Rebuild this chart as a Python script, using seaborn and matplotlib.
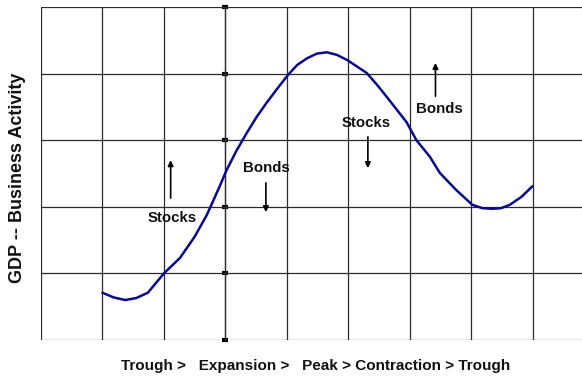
import matplotlib
matplotlib.use("Agg")
import matplotlib.pyplot as plt
import seaborn as sns
import pandas as pd

sns.set_theme(style="white")
plt.rcParams["font.family"] = ["Liberation Sans", "DejaVu Sans"]

# Business-cycle curve (phase position vs. activity level)
cycle_x = [1.00, 1.18, 1.37, 1.55, 1.74, 2.00, 2.26, 2.50, 2.70, 2.89, 3.02, 3.18, 3.35,
           3.51, 3.67, 3.85, 4.02, 4.17, 4.33, 4.49, 4.65, 4.82, 4.99, 5.30, 5.48, 5.67,
           5.95, 6.11, 6.33, 6.49, 6.76, 7.02, 7.18, 7.35, 7.49, 7.63, 7.82, 8.00]
cycle_y = [0.71, 0.64, 0.60, 0.63, 0.71, 1.00, 1.23, 1.55, 1.88, 2.27, 2.55, 2.84, 3.11,
           3.35, 3.56, 3.78, 3.98, 4.13, 4.23, 4.30, 4.32, 4.28, 4.20, 4.01, 3.82, 3.60,
           3.27, 3.00, 2.75, 2.51, 2.25, 2.03, 1.98, 1.97, 1.98, 2.03, 2.15, 2.31]

# Asset-class labels with the direction of their arrows
asset_labels = ["Stocks", "Bonds", "Stocks", "Bonds"]
label_x = [2.13, 3.66, 5.30, 6.49]
label_y = [1.83, 2.58, 3.26, 3.47]

x_title = "Trough >   Expansion >   Peak > Contraction > Trough"
y_title = "GDP -- Business Activity"

df = pd.DataFrame({"phase": cycle_x, "activity": cycle_y})

fig = plt.figure(figsize=(5.82, 3.79), dpi=100)
ax = fig.add_axes([41 / 582, 39 / 379, 553 / 582, 333 / 379])

ax.set_xlim(0, 9)
ax.set_ylim(0, 5)

# grid
for gx in range(0, 10):
    ax.axvline(gx, color="#2a2a2a", lw=0.9, zorder=1)
for gy in range(0, 6):
    ax.axhline(gy, color="#2a2a2a", lw=0.9, zorder=1)

sns.lineplot(data=df, x="phase", y="activity", sort=False, color="#0a0a8a",
             lw=1.8, ax=ax, zorder=3)

# central axis with square tick marks
ax.spines["left"].set_position(("data", 3))
for s in ["top", "right", "bottom"]:
    ax.spines[s].set_visible(False)
ax.spines["left"].set_color("#2a2a2a")
ax.spines["left"].set_linewidth(0.9)
ax.set_yticks(range(0, 6))
ax.set_yticklabels([])
ax.tick_params(axis="y", direction="inout", length=5, width=3, color="black", left=True)
ax.set_xticks([])
ax.set_xlabel("")
ax.set_ylabel("")

for lab, lx, ly in zip(asset_labels, label_x, label_y):
    ax.text(lx, ly, lab, ha="center", va="center", fontsize=10.8, fontweight="bold",
            color="#111111", zorder=4)

# arrows: (x, y_tail, y_head)
arrow_specs = [(2.11, 2.13, 2.70), (3.66, 2.36, 1.92), (5.32, 3.05, 2.58), (6.42, 3.66, 4.16)]
for ax_x, y0, y1 in arrow_specs:
    ax.annotate("", xy=(ax_x, y1), xytext=(ax_x, y0),
                arrowprops=dict(arrowstyle="-|>", color="black", lw=1.2,
                                mutation_scale=8, shrinkA=0, shrinkB=0), zorder=4)

fig.text(316 / 582, 1 - 366 / 379, x_title, ha="center", va="center",
         fontsize=11, fontweight="bold", color="#111111")
fig.text(18 / 582, 1 - 178 / 379, y_title, ha="center", va="center", rotation=90,
         fontsize=13, fontweight="bold", color="#111111")

fig.savefig("out.png", dpi=100, facecolor="white")
